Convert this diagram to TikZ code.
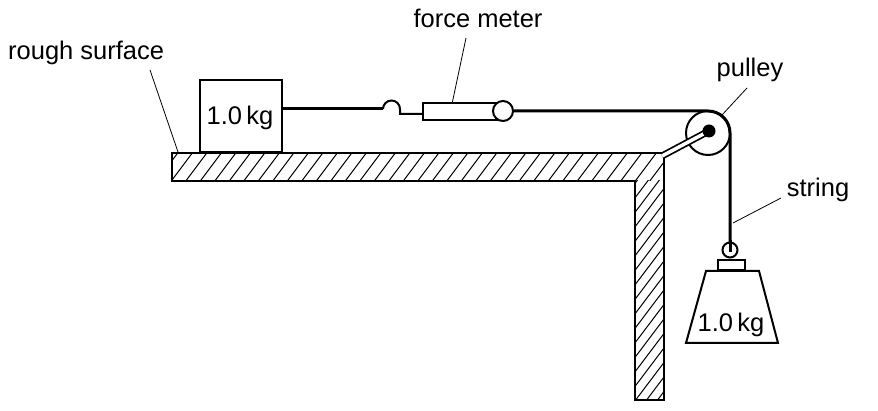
\documentclass[tikz,border=0pt]{standalone}
\usepackage{fontspec}
\setmainfont{Liberation Sans}
\begin{document}
\begin{tikzpicture}[x=1pt,y=-1pt,
  lbl/.style={font=\fontsize{25.5}{28}\selectfont, inner sep=0pt},
  lead/.style={line width=0.8pt},
  str/.style={line width=3pt},
  obj/.style={line width=2pt}]
\useasboundingbox (0,0) rectangle (878,411);
% surface
\begin{scope}
\clip (172,153) rectangle (664,181);
\foreach \i in {0,...,60} { \draw[line width=1pt] (150+\i*14.5,190) -- ++(30,-40); }
\end{scope}
\begin{scope}
\clip (635,181) rectangle (664,400);
\foreach \i in {0,...,20} { \draw[line width=1pt] (630,190+\i*14.5) -- ++(40,-53); }
\end{scope}
\draw[obj] (172,153) -- (664,153) -- (664,400) -- (635,400) -- (635,181) -- (172,181) -- cycle;
% block
\node[obj, draw, minimum width=82pt, minimum height=72pt, anchor=south west, inner sep=0pt] (blk) at (199,153) {};
\node[lbl] (blkt) at (240,118) {1.0\,kg};
% strings & hook
\coordinate (hk) at (383,109);
\draw[str] (blk.east |- hk) -- (hk);
\draw[obj] (hk) arc[start angle=180,end angle=360,radius=8.5] -- ++(0,5) -- (422,114);
% force meter
\node[obj, draw, minimum width=75pt, minimum height=17pt, anchor=west, inner sep=0pt, fill=white] (fm) at (422,111.5) {};
\node[obj, draw, circle, minimum size=20pt, inner sep=0pt, fill=white] (ring) at (503,111) {};
% pulley
\node[obj, draw, circle, minimum size=44pt, inner sep=0pt] (pul) at (708,133) {};
\draw[line width=7pt] (662,156) -- (709,131);
\draw[line width=3.5pt, white] (662,156) -- (709,131);
\fill (709,131) circle (6.5);
\draw[str] (ring.east) -- (708,111) arc[start angle=-90,end angle=0,radius=22] -- (730,243);
% weight
\node[obj, draw, circle, minimum size=15pt, inner sep=0pt] (wr) at (730,250) {};
\draw[str] (730,240) -- (730,252);
\node[obj, draw, minimum width=27pt, minimum height=10pt, inner sep=0pt, anchor=south] (cap) at (731.5,271) {};
\draw[obj] (706,271) -- (759,271) -- (778,343) -- (686,343) -- cycle;
\node[lbl] (wt) at (731,325) {1.0\,kg};
% labels
\node[lbl, anchor=base] (tfm) at (478,28) {force meter};
\draw[lead] (466,38) -- (452,104);
\node[lbl, anchor=base] (tpu) at (750,77) {pulley};
\draw[lead] (747,88) -- (722,115);
\node[lbl, anchor=base] (tst) at (818,197) {string};
\draw[lead] (781,198) -- (733,223);
\node[lbl, anchor=base west] (trs) at (8,60) {rough surface};
\draw[lead] (150,70) -- (178,152);
\end{tikzpicture}
\end{document}
